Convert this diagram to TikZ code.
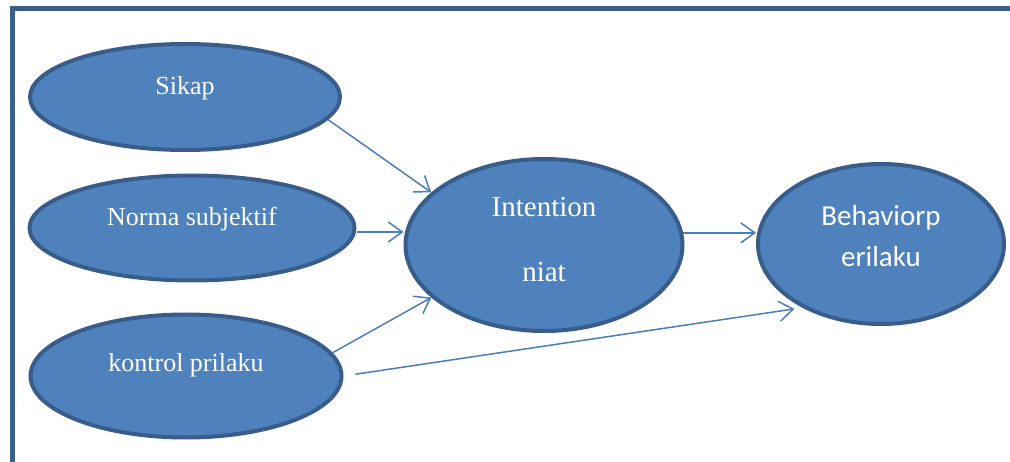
\documentclass[tikz,border=0pt]{standalone}
\usepackage{fontspec}
\setmainfont{Liberation Serif}
\newfontfamily\calibrifont{Carlito}
\usetikzlibrary{arrows.meta,shapes.geometric}
\definecolor{ovalfill}{HTML}{4F81BD}
\definecolor{ovalline}{HTML}{385D8A}
\definecolor{linkblue}{HTML}{4A7EBB}
\definecolor{frameblue}{HTML}{3A5F8B}
\newcommand\ovaltxt[2]{\raisebox{#1}[0pt][0pt]{\makebox[0pt]{\begin{tabular}[t]{@{}c@{}}#2\end{tabular}}}}

\begin{document}
\begin{tikzpicture}[x=1pt, y=-1pt, >={Straight Barb[length=14pt,width=20pt]},
	oval/.style={ellipse, draw=ovalline, line width=4pt, fill=ovalfill, text=white, inner sep=0pt, font=\fontsize{26}{30}\selectfont},
	link/.style={->, draw=linkblue, line width=1.5pt}]
			\useasboundingbox (0,0) rectangle (1010,462);
			\clip (0,0) rectangle (1010,462);
			\draw[frameblue, line width=5pt] (12.5,8.5) rectangle (1040,490);
			\node[oval, minimum width=310pt, minimum height=106pt] (sikap) at (185,97) {\ovaltxt{2pt}{Sikap}};
			\node[oval, minimum width=325pt, minimum height=105pt] (norma) at (192,228) {\ovaltxt{2pt}{Norma subjektif}};
			\node[oval, minimum width=311pt, minimum height=123pt] (kontrol) at (186,376) {\ovaltxt{4pt}{kontrol prilaku}};
			\node[oval, minimum width=277pt, minimum height=172pt, font=\fontsize{29}{65}\selectfont] (intent) at (544,245) {\ovaltxt{28pt}{Intention\\niat}};
			\node[oval, minimum width=246pt, minimum height=160pt, font=\calibrifont\fontsize{29}{41}\selectfont] (behav) at (881,244) {\ovaltxt{18pt}{Behaviorp\\erilaku}};
			\draw[link] (sikap.-9) -- (intent.155);
			\draw[link] ([yshift=-4pt]norma.east) -- ([yshift=-4pt]norma.east -| intent.west);
			\draw[link] (kontrol.9) -- (intent.-155);
			\draw[link] (intent.5) -- (intent.5 -| behav.west);
			\draw[link, shorten <=12pt, shorten >=8pt] (kontrol.east) -- (behav.-141);
\end{tikzpicture}
\end{document}
